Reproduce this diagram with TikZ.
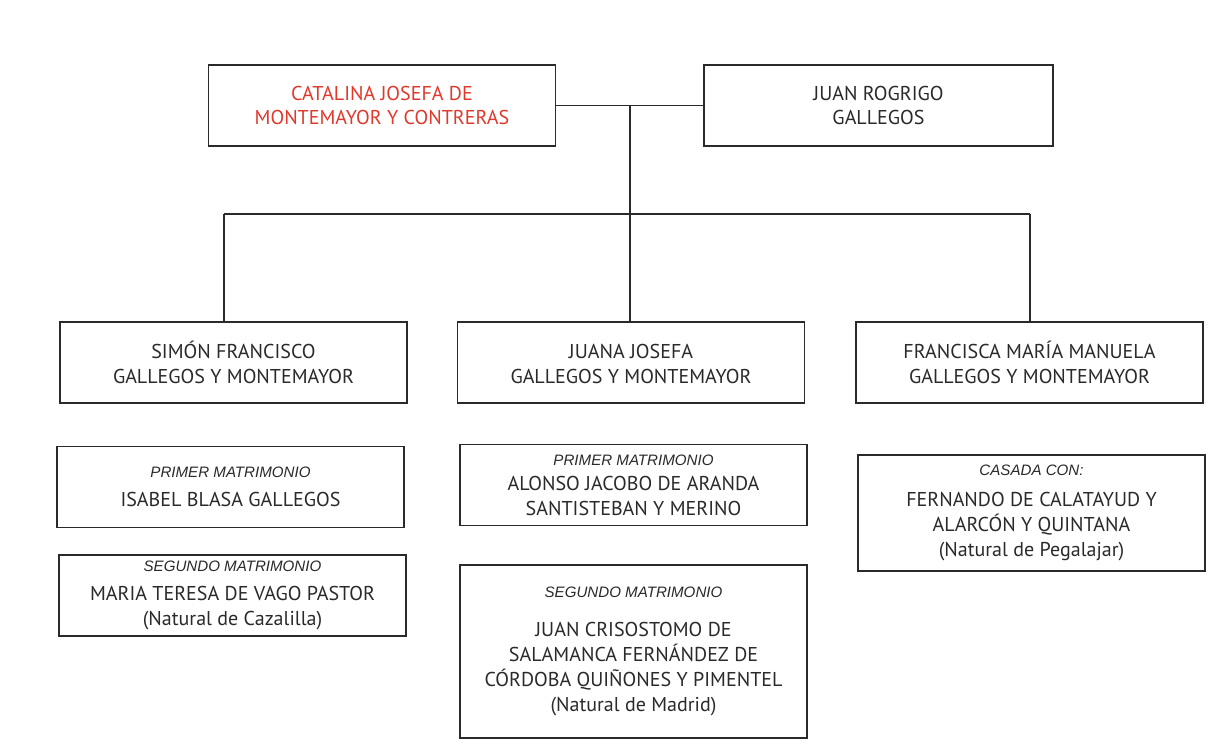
\documentclass[tikz,border=0pt]{standalone}
\usepackage{fontspec}
\setmainfont{PT Sans}
\newfontfamily\lblfont{Liberation Sans}
\usetikzlibrary{positioning}
\definecolor{ink}{HTML}{2A2A2A}
\definecolor{redname}{HTML}{E0392C}
\newcommand{\lbl}[1]{{\lblfont\itshape\fontsize{8.6}{10}\selectfont #1}}
\tikzset{
	person/.style={draw=ink, line width=0.7pt, text=ink, minimum width=6.94cm, minimum height=1.62cm, inner sep=1pt, align=center, font=\fontsize{11.4}{14.2}\selectfont},
	link/.style={draw=ink, line width=0.8pt}
}
\begin{document}
\begin{tikzpicture}
	\useasboundingbox[fill=white] (0,0) rectangle (24.6,15.02);
	\node[person, text=redname] (catalina) at (7.64,12.91) {CATALINA JOSEFA DE\\MONTEMAYOR Y CONTRERAS};
	\node[person, minimum width=6.98cm] (juan) at (17.57,12.91) {JUAN ROGRIGO\\GALLEGOS};
	\node[person] (simon) at (4.67,7.77) {SIMÓN FRANCISCO\\GALLEGOS Y MONTEMAYOR};
	\node[person] (juana) at (12.62,7.77) {\vphantom{Ó}JUANA JOSEFA\\GALLEGOS Y MONTEMAYOR};
	\node[person] (francisca) at (20.59,7.77) {FRANCISCA MARÍA MANUELA\\GALLEGOS Y MONTEMAYOR};
	\node[person] (isabel) at (4.61,5.28) {\lbl{PRIMER MATRIMONIO}\\[2pt]ISABEL BLASA GALLEGOS};
	\node[person] (maria) at (4.65,3.11) {\lbl{SEGUNDO MATRIMONIO}\\[2pt]MARIA TERESA DE VAGO PASTOR\\(Natural de Cazalilla)};
	\node[person] (alonso) at (12.67,5.32) {\lbl{PRIMER MATRIMONIO}\\ALONSO JACOBO DE ARANDA\\SANTISTEBAN Y MERINO};
	\node[person, minimum height=3.46cm] (crisostomo) at (12.67,1.99) {\lbl{SEGUNDO MATRIMONIO}\\[8pt]JUAN CRISOSTOMO DE\\SALAMANCA FERNÁNDEZ DE\\CÓRDOBA QUIÑONES Y PIMENTEL\\(Natural de Madrid)};
	\node[person, minimum height=2.32cm] (fernando) at (20.63,4.76) {\lbl{CASADA CON:}\\[3pt]FERNANDO DE CALATAYUD Y\\ALARCÓN Y QUINTANA\\(Natural de Pegalajar)};
	\coordinate (fork) at (12.6,10.74);
	\draw[link] (catalina.east) -- (juan.west);
	\draw[link] (fork |- catalina.east) -- (fork);
	\draw[link] (4.48,10.74) coordinate (bl) -- (20.6,10.74) coordinate (br);
	\draw[link] (bl) -- (bl |- simon.north);
	\draw[link] (fork) -- (fork |- juana.north);
	\draw[link] (br) -- (br |- francisca.north);
\end{tikzpicture}
\end{document}
